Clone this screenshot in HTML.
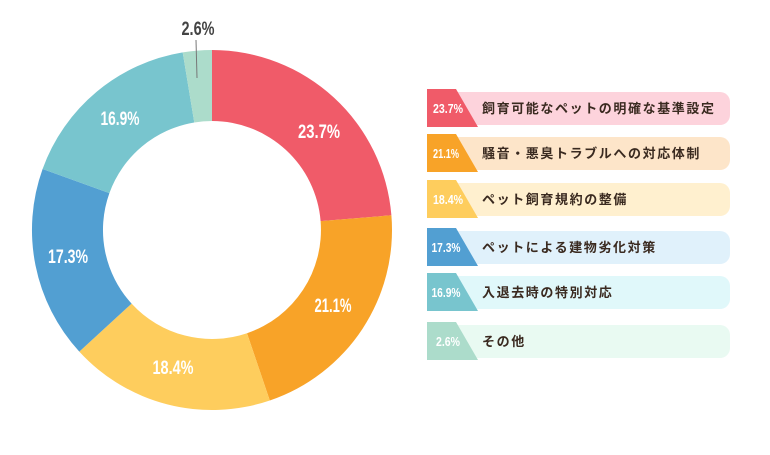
<!DOCTYPE html>
<html><head><meta charset="utf-8"><style>
body{margin:0;background:#fff;width:770px;height:450px;overflow:hidden}
.n{font-family:"Liberation Sans",sans-serif;font-weight:bold}
.j{font-family:"Liberation Sans","Noto Sans CJK JP",sans-serif;font-weight:bold}
</style></head><body>
<svg width="770" height="450" xmlns="http://www.w3.org/2000/svg">
<g stroke="none">
<path d="M212,50 A180,180 0 0 1 391.4,215.3 L320.6,221.1 A109,109 0 0 0 212,121 Z" fill="#f05b69"/>
<path d="M391.4,215.3 A180,180 0 0 1 269.8,400.5 L247,333.2 A109,109 0 0 0 320.6,221.1 Z" fill="#f8a328"/>
<path d="M269.8,400.5 A180,180 0 0 1 79.3,351.6 L131.6,303.6 A109,109 0 0 0 247,333.2 Z" fill="#fecd5d"/>
<path d="M79.3,351.6 A180,180 0 0 1 42.6,169 L109.4,193.1 A109,109 0 0 0 131.6,303.6 Z" fill="#529fd2"/>
<path d="M42.6,169 A180,180 0 0 1 182.7,52.4 L194.3,122.5 A109,109 0 0 0 109.4,193.1 Z" fill="#78c5ce"/>
<path d="M182.7,52.4 A180,180 0 0 1 212,50 L212,121 A109,109 0 0 0 194.3,122.5 Z" fill="#acdccb"/>
</g>
<line x1="196" y1="40" x2="197" y2="78" stroke="#777" stroke-width="1"/>
<g class="n" font-size="19" fill="#fff" text-anchor="middle" lengthAdjust="spacingAndGlyphs">
<text x="319" y="138" textLength="42" lengthAdjust="spacingAndGlyphs">23.7%</text>
<text x="333" y="312" textLength="37" lengthAdjust="spacingAndGlyphs">21.1%</text>
<text x="173" y="374" textLength="41" lengthAdjust="spacingAndGlyphs">18.4%</text>
<text x="68" y="263" textLength="40" lengthAdjust="spacingAndGlyphs">17.3%</text>
<text x="120" y="125" textLength="39" lengthAdjust="spacingAndGlyphs">16.9%</text>
<text x="198" y="35" fill="#444" textLength="33" lengthAdjust="spacingAndGlyphs">2.6%</text>
</g>
<g>
<rect x="440" y="92" width="290" height="33" rx="10" fill="#fdd3dc"/>
<rect x="440" y="137" width="290" height="33" rx="10" fill="#fde5c9"/>
<rect x="440" y="183" width="290" height="33" rx="10" fill="#fff0cf"/>
<rect x="440" y="231" width="290" height="33" rx="10" fill="#e0f1fb"/>
<rect x="440" y="276" width="290" height="33" rx="10" fill="#e0f8fa"/>
<rect x="440" y="325" width="290" height="33" rx="10" fill="#e9faf2"/>
<path d="M427,89 H456 L478,127 H427 Z" fill="#f05b69"/>
<path d="M427,134 H456 L478,172 H427 Z" fill="#f8a328"/>
<path d="M427,180 H456 L478,218 H427 Z" fill="#fecd5d"/>
<path d="M427,228 H456 L478,266 H427 Z" fill="#529fd2"/>
<path d="M427,273 H456 L478,311 H427 Z" fill="#78c5ce"/>
<path d="M427,322 H456 L478,360 H427 Z" fill="#acdccb"/>
</g>
<g class="n" font-size="13" fill="#fff" text-anchor="middle">
<text x="448" y="113" textLength="30" lengthAdjust="spacingAndGlyphs">23.7%</text>
<text x="446" y="158" textLength="26" lengthAdjust="spacingAndGlyphs">21.1%</text>
<text x="448" y="204" textLength="30" lengthAdjust="spacingAndGlyphs">18.4%</text>
<text x="446" y="252" textLength="29" lengthAdjust="spacingAndGlyphs">17.3%</text>
<text x="446" y="297" textLength="29" lengthAdjust="spacingAndGlyphs">16.9%</text>
<text x="448" y="346" textLength="24" lengthAdjust="spacingAndGlyphs">2.6%</text>
</g>
<g class="j" font-size="13" fill="#3a2a20" letter-spacing="1.6">
<text x="482" y="113">飼育可能なペットの明確な基準設定</text>
<text x="482" y="158">騒音・悪臭トラブルへの対応体制</text>
<text x="482" y="204">ペット飼育規約の整備</text>
<text x="482" y="252">ペットによる建物劣化対策</text>
<text x="482" y="297">入退去時の特別対応</text>
<text x="482" y="346">その他</text>
</g>
</svg>
</body></html>
